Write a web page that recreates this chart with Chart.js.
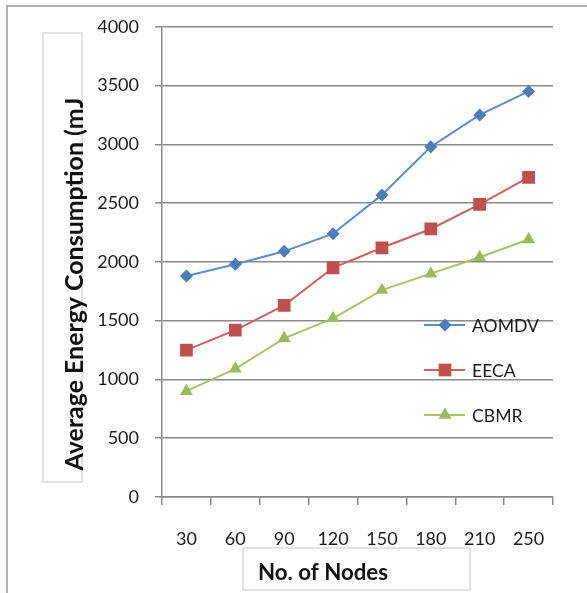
<!DOCTYPE html>
<html>
<head>
<meta charset="utf-8">
<script src="https://cdn.jsdelivr.net/npm/chart.js@4/dist/chart.umd.min.js"></script>
<style>
  html, body { margin: 0; padding: 0; background: #fff; }
  #c { display: block; }
</style>
</head>
<body>
<canvas id="c" width="587" height="593"></canvas>
<script>
// Number of nodes in the network (x categories)
const nodeCounts = ['30', '60', '90', '120', '150', '180', '210', '250'];

// Average energy consumption (mJ) per protocol
const aomdv = [1880, 1980, 2090, 2240, 2570, 2980, 3250, 3450];
const eeca  = [1250, 1420, 1630, 1950, 2120, 2280, 2490, 2720];
const cbmr  = [900, 1090, 1350, 1520, 1760, 1900, 2040, 2190];

// Value axis range
const yMin = 0;
const yMax = 4000;
const yStep = 500;

const seriesNames = ['AOMDV', 'EECA', 'CBMR'];
const yTitle = 'Average Energy Consumption (mJ';
const xTitle = 'No. of Nodes';

const FONT = 'Lato, "Liberation Sans", sans-serif';
const GRID = '#8a8a8a';

// Pick a font size so that the text spans the wanted length
function fitFont(ctx, weight, text, span) {
  ctx.font = weight + ' 20px ' + FONT;
  const w = ctx.measureText(text).width;
  return weight + ' ' + (20 * span / w).toFixed(2) + 'px ' + FONT;
}

// Frame, title boxes, axis titles and the legend on the right of the plot
const decorations = {
  id: 'decorations',
  beforeDraw(chart) {
    const ctx = chart.ctx;
    ctx.save();
    ctx.fillStyle = '#fff';
    ctx.fillRect(0, 0, chart.width, chart.height);
    // outer chart frame
    ctx.strokeStyle = '#9a9a9a';
    ctx.lineWidth = 1.5;
    ctx.beginPath();
    ctx.moveTo(7, chart.height + 2);
    ctx.lineTo(7, 6);
    ctx.lineTo(chart.width + 2, 6);
    ctx.stroke();
    // boxes around the axis titles
    ctx.strokeStyle = '#cfcfcf';
    ctx.lineWidth = 1.2;
    ctx.strokeRect(43, 33, 39, 449);
    ctx.strokeRect(243, 548, 227, 42);
    ctx.restore();
  },
  afterDraw(chart) {
    const ctx = chart.ctx;
    ctx.save();
    ctx.fillStyle = '#111';
    // value axis title
    ctx.font = fitFont(ctx, 'bold', yTitle, 373);
    ctx.textAlign = 'center';
    ctx.textBaseline = 'middle';
    ctx.translate(75, 284);
    ctx.rotate(-Math.PI / 2);
    ctx.fillText(yTitle, 0, 0);
    ctx.setTransform(1, 0, 0, 1, 0, 0);
    // category axis title
    ctx.font = fitFont(ctx, 'bold', xTitle, 130);
    ctx.textAlign = 'left';
    ctx.fillText(xTitle, 258, 573);
    // legend
    const legendFont = fitFont(ctx, 'normal', seriesNames[0], 67);
    const rows = [325, 370, 415];
    chart.data.datasets.forEach((ds, i) => {
      const y = rows[i];
      ctx.strokeStyle = ds.borderColor;
      ctx.lineWidth = 2;
      ctx.beginPath();
      ctx.moveTo(424, y);
      ctx.lineTo(465, y);
      ctx.stroke();
      ctx.fillStyle = ds.pointBackgroundColor;
      Chart.helpers.drawPoint(ctx, {
        pointStyle: ds.pointStyle,
        radius: ds.pointRadius,
        rotation: 0,
        borderWidth: 0
      }, 445, y);
      ctx.fillStyle = '#1a1a1a';
      ctx.font = legendFont;
      ctx.textAlign = 'left';
      ctx.textBaseline = 'middle';
      ctx.fillText(ds.label, 472, y + 1);
    });
    ctx.restore();
  }
};

function series(label, data, line, fill, style, radius) {
  return {
    label, data,
    borderColor: line,
    borderWidth: 2,
    backgroundColor: fill,
    pointBackgroundColor: fill,
    pointBorderColor: fill,
    pointBorderWidth: 0,
    pointStyle: style,
    pointRadius: radius,
    pointHoverRadius: radius,
    tension: 0,
    fill: false
  };
}

new Chart(document.getElementById('c'), {
  type: 'line',
  data: {
    labels: nodeCounts,
    datasets: [
      series(seriesNames[0], aomdv, '#5b8ccc', '#4a7ebb', 'rectRot', 6.5),
      series(seriesNames[1], eeca, '#d0605c', '#c0504d', 'rect', 9),
      series(seriesNames[2], cbmr, '#a6c566', '#9bbb59', 'triangle', 7.5)
    ]
  },
  options: {
    responsive: false,
    animation: false,
    devicePixelRatio: 1,
    layout: { padding: { left: 0, top: 25, right: 34, bottom: 0 } },
    plugins: {
      legend: { display: false },
      title: { display: false },
      tooltip: { enabled: false }
    },
    scales: {
      x: {
        type: 'category',
        offset: true,
        afterFit(scale) { scale.height = 96; },
        grid: {
          offset: true,
          drawOnChartArea: false,
          drawTicks: true,
          tickLength: 8,
          color: GRID,
          lineWidth: 1.5
        },
        border: { color: GRID, width: 1.5 },
        ticks: {
          padding: 23,
          color: '#1a1a1a',
          font: { family: FONT, size: 18 },
          maxRotation: 0
        }
      },
      y: {
        min: yMin,
        max: yMax,
        afterFit(scale) { scale.width = 162; },
        grid: {
          color: GRID,
          lineWidth: 1.5,
          tickLength: 7
        },
        border: { color: GRID, width: 1.5 },
        ticks: {
          stepSize: yStep,
          padding: 16,
          color: '#1a1a1a',
          font: { family: FONT, size: 18 },
          callback: (v) => String(v)
        }
      }
    }
  },
  plugins: [decorations]
});
</script>
</body>
</html>
